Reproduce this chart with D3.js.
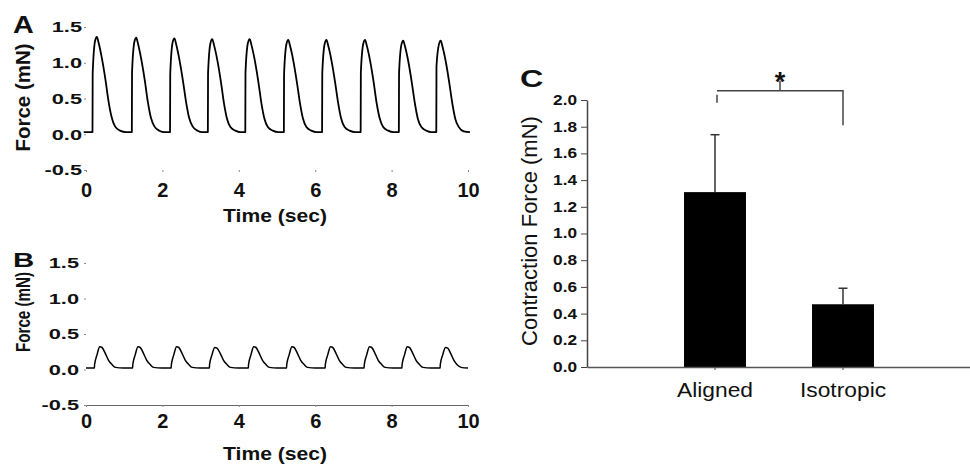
<!DOCTYPE html>
<html>
<head>
<meta charset="utf-8">
<script src="https://cdn.jsdelivr.net/npm/d3@7"></script>
<style>
  body { margin: 0; background: #fff; }
  text { font-family: "Liberation Sans", Arial, sans-serif; fill: #111; }
</style>
</head>
<body>
<script>
// ---- data ----
var timeTicks = [0, 2, 4, 6, 8, 10];
var forceTicks = [-0.5, 0.0, 0.5, 1.0, 1.5];

// panel A: aligned tissue, force trace [time (s), force (mN)]
var traceA = [
    [-0.06, 0.03], [0.17, 0.03],
    [0.175, 0.85], [0.24, 1.31], [0.285, 1.36], [0.33, 1.28], [0.42, 1.05], [0.51, 0.76], [0.59, 0.46], [0.67, 0.24], [0.76, 0.11], [0.89, 0.05], [1.05, 0.03], [1.20, 0.03],
    [1.205, 0.86], [1.27, 1.30], [1.315, 1.35], [1.36, 1.27], [1.45, 1.04], [1.54, 0.75], [1.62, 0.45], [1.70, 0.23], [1.79, 0.11], [1.92, 0.05], [2.06, 0.03], [2.20, 0.03],
    [2.205, 0.84], [2.27, 1.29], [2.315, 1.34], [2.36, 1.26], [2.45, 1.03], [2.54, 0.74], [2.62, 0.45], [2.70, 0.23], [2.79, 0.11], [2.92, 0.05], [3.06, 0.03], [3.19, 0.03],
    [3.195, 0.85], [3.26, 1.28], [3.305, 1.33], [3.35, 1.25], [3.44, 1.03], [3.53, 0.74], [3.61, 0.44], [3.69, 0.22], [3.78, 0.10], [3.91, 0.05], [4.04, 0.03], [4.17, 0.03],
    [4.175, 0.86], [4.24, 1.28], [4.285, 1.33], [4.33, 1.25], [4.42, 1.03], [4.51, 0.74], [4.59, 0.44], [4.67, 0.22], [4.76, 0.10], [4.89, 0.05], [5.04, 0.03], [5.18, 0.03],
    [5.185, 0.84], [5.25, 1.27], [5.295, 1.32], [5.34, 1.24], [5.43, 1.02], [5.52, 0.73], [5.60, 0.44], [5.68, 0.22], [5.77, 0.10], [5.90, 0.05], [6.04, 0.03], [6.18, 0.03],
    [6.185, 0.85], [6.25, 1.27], [6.295, 1.32], [6.34, 1.24], [6.43, 1.02], [6.52, 0.73], [6.60, 0.44], [6.68, 0.22], [6.77, 0.10], [6.90, 0.05], [7.05, 0.03], [7.19, 0.03],
    [7.195, 0.86], [7.26, 1.27], [7.305, 1.32], [7.35, 1.24], [7.44, 1.02], [7.53, 0.73], [7.61, 0.43], [7.69, 0.22], [7.78, 0.10], [7.91, 0.05], [8.05, 0.03], [8.19, 0.03],
    [8.195, 0.85], [8.26, 1.26], [8.305, 1.31], [8.35, 1.23], [8.44, 1.01], [8.53, 0.72], [8.61, 0.43], [8.69, 0.21], [8.78, 0.10], [8.91, 0.05], [9.04, 0.03], [9.17, 0.03],
    [9.175, 0.95], [9.24, 1.26], [9.285, 1.31], [9.33, 1.23], [9.42, 1.01], [9.51, 0.72], [9.59, 0.43], [9.67, 0.21], [9.76, 0.10], [9.89, 0.04], [10.05, 0.03]
];

// panel B: isotropic tissue
var traceB = [
    [0.0, 0.02], [0.22, 0.02],
    [0.225, 0.07], [0.29, 0.21], [0.36, 0.32], [0.42, 0.31], [0.51, 0.22], [0.59, 0.13], [0.68, 0.07], [0.77, 0.03], [0.98, 0.02], [1.22, 0.02],
    [1.225, 0.07], [1.29, 0.21], [1.36, 0.32], [1.42, 0.31], [1.51, 0.22], [1.59, 0.13], [1.68, 0.07], [1.77, 0.03], [1.98, 0.02], [2.23, 0.02],
    [2.235, 0.07], [2.30, 0.21], [2.37, 0.32], [2.43, 0.31], [2.52, 0.22], [2.60, 0.13], [2.69, 0.07], [2.78, 0.03], [2.99, 0.02], [3.23, 0.02],
    [3.235, 0.07], [3.30, 0.21], [3.37, 0.31], [3.43, 0.30], [3.52, 0.22], [3.60, 0.13], [3.69, 0.07], [3.78, 0.03], [3.99, 0.02], [4.25, 0.02],
    [4.255, 0.07], [4.32, 0.21], [4.39, 0.32], [4.45, 0.31], [4.54, 0.22], [4.62, 0.13], [4.71, 0.07], [4.80, 0.03], [5.01, 0.02], [5.25, 0.02],
    [5.255, 0.07], [5.32, 0.21], [5.39, 0.32], [5.45, 0.31], [5.54, 0.22], [5.62, 0.13], [5.71, 0.07], [5.80, 0.03], [6.01, 0.02], [6.26, 0.02],
    [6.265, 0.07], [6.33, 0.21], [6.40, 0.32], [6.46, 0.31], [6.55, 0.22], [6.63, 0.13], [6.72, 0.07], [6.81, 0.03], [7.02, 0.02], [7.28, 0.02],
    [7.285, 0.07], [7.35, 0.21], [7.42, 0.32], [7.48, 0.31], [7.57, 0.22], [7.65, 0.13], [7.74, 0.07], [7.83, 0.03], [8.04, 0.02], [8.27, 0.02],
    [8.275, 0.07], [8.34, 0.21], [8.41, 0.32], [8.47, 0.31], [8.56, 0.22], [8.64, 0.13], [8.73, 0.07], [8.82, 0.03], [9.03, 0.02], [9.27, 0.02],
    [9.275, 0.07], [9.34, 0.21], [9.41, 0.31], [9.47, 0.30], [9.56, 0.21], [9.64, 0.12], [9.73, 0.06], [9.82, 0.03], [10.0, 0.02]
];

// panel C: mean contraction force with SD
var groups = ["Aligned", "Isotropic"];
var means = [1.31, 0.47];
var sds = [0.43, 0.12];
var cTicks = [0.0, 0.2, 0.4, 0.6, 0.8, 1.0, 1.2, 1.4, 1.6, 1.8, 2.0];
// significance bracket: [left drop bottom, bar level, right drop bottom]
var bracketLevels = [1.98, 2.07, 1.81];

var svg = d3.select("body")
    .append("svg")
    .attr("width", 970)
    .attr("height", 464);

// text in the figure is wider than the font, so stretch it a bit
function stretch(sel, k) {
    sel.each(function () {
        var w = this.getComputedTextLength();
        this.setAttribute("textLength", w * k);
        this.setAttribute("lengthAdjust", "spacingAndGlyphs");
    });
}

var xscale = d3.scaleLinear()
    .domain([0, 10])
    .range([86, 468]);

function fmt(d) { return d.toFixed(1); }

function tracePanel(opt) {
    var yscale = d3.scaleLinear()
        .domain([-0.5, 1.5])
        .range([opt.bottom, opt.top]);

    var g = svg.append("g");

    var yAxis = d3.axisLeft(yscale)
        .tickValues(forceTicks)
        .tickFormat(fmt)
        .tickSize(2)
        .tickPadding(opt.yPad);
    var ya = g.append("g")
        .attr("transform", "translate(86,0)")
        .call(yAxis);
    ya.select(".domain").remove();
    ya.selectAll("line").attr("stroke", "#888");
    ya.selectAll("text")
        .attr("font-size", 15)
        .attr("font-weight", "bold")
        .attr("font-family", null);
    stretch(ya.selectAll("text"), 1.45);

    var xAxis = d3.axisBottom(xscale)
        .tickValues(timeTicks)
        .tickSize(2)
        .tickSizeOuter(0)
        .tickPadding(opt.xPad);
    var xa = g.append("g")
        .attr("transform", "translate(0," + opt.bottom + ")")
        .call(xAxis);
    if (opt.axisLine) {
        xa.select(".domain").attr("stroke", "#666").attr("stroke-width", 1.2);
    } else {
        xa.select(".domain").remove();
    }
    xa.selectAll("line").attr("stroke", "#888");
    xa.selectAll("text")
        .attr("font-size", 20)
        .attr("font-weight", "bold")
        .attr("font-family", null);

    var line = d3.line()
        .x(function (d) { return xscale(d[0]); })
        .y(function (d) { return yscale(d[1]); })
        .curve(d3.curveMonotoneX);

    g.append("path")
        .datum(opt.data)
        .attr("fill", "none")
        .attr("stroke", "#000")
        .attr("stroke-width", opt.lineW)
        .attr("stroke-linejoin", "round")
        .attr("d", line);

    var t = g.append("text")
        .attr("x", 275)
        .attr("y", opt.timeBase)
        .attr("text-anchor", "middle")
        .attr("font-size", 18.5)
        .attr("font-weight", "bold")
        .text("Time (sec)");
    stretch(t, 1.14);

    g.append("text")
        .attr("transform", "translate(30," + opt.titleMid + ") rotate(-90)")
        .attr("text-anchor", "middle")
        .attr("font-size", opt.titleSize)
        .attr("font-weight", "bold")
        .attr("textLength", opt.titleLen)
        .attr("lengthAdjust", "spacingAndGlyphs")
        .text("Force (mN)");

    var l = g.append("text")
        .attr("x", 13)
        .attr("y", opt.letterBase)
        .attr("font-size", opt.letterSize)
        .attr("font-weight", "bold")
        .text(opt.letter);
    stretch(l, opt.letterK);
}

tracePanel({ data: traceA, top: 27, bottom: 170, axisLine: false, yPad: 2, xPad: 10.8,
    lineW: 1.8, timeBase: 222, titleMid: 97.5, titleLen: 108, titleSize: 20,
    letter: "A", letterBase: 33, letterSize: 23, letterK: 1.25 });

tracePanel({ data: traceB, top: 263, bottom: 405, axisLine: true, yPad: 5, xPad: 6.8,
    lineW: 1.5, timeBase: 460, titleMid: 312, titleLen: 80, titleSize: 21,
    letter: "B", letterBase: 267, letterSize: 21, letterK: 1.4 });

// ---- panel C ----
var yC = d3.scaleLinear()
    .domain([0, 2])
    .range([367, 100]);

var xC = d3.scaleBand()
    .domain(groups)
    .range([587, 971])
    .paddingInner(0.516)
    .paddingOuter(0.758);

var gc = svg.append("g");

var yAxisC = d3.axisLeft(yC)
    .tickValues(cTicks)
    .tickFormat(fmt)
    .tickSize(6)
    .tickSizeOuter(0)
    .tickPadding(4);
var yac = gc.append("g")
    .attr("transform", "translate(587,0)")
    .call(yAxisC);
yac.select(".domain").attr("stroke", "#444").attr("stroke-width", 1.5);
yac.selectAll("line").attr("stroke", "#444");
yac.selectAll("text")
    .attr("font-size", 14)
    .attr("font-weight", "bold")
    .attr("font-family", null);
stretch(yac.selectAll("text"), 1.23);

var bars = gc.selectAll(".bar")
    .data(groups)
    .enter().append("rect")
    .attr("class", "bar")
    .attr("x", function (d) { return xC(d); })
    .attr("width", xC.bandwidth())
    .attr("y", function (d, i) { return yC(means[i]); })
    .attr("height", function (d, i) { return yC(0) - yC(means[i]); })
    .attr("fill", "#000");

// upper error bars only
groups.forEach(function (d, i) {
    var cx = xC(d) + xC.bandwidth() / 2;
    gc.append("line")
        .attr("x1", cx).attr("x2", cx)
        .attr("y1", yC(means[i])).attr("y2", yC(means[i] + sds[i]))
        .attr("stroke", "#333").attr("stroke-width", 1.5);
    gc.append("line")
        .attr("x1", cx - 4.5).attr("x2", cx + 4.5)
        .attr("y1", yC(means[i] + sds[i])).attr("y2", yC(means[i] + sds[i]))
        .attr("stroke", "#333").attr("stroke-width", 1.5);
});

var xAxisC = d3.axisBottom(xC)
    .tickSize(3)
    .tickSizeOuter(0)
    .tickPadding(12.8);
var xac = gc.append("g")
    .attr("transform", "translate(0,367)")
    .call(xAxisC);
xac.select(".domain").attr("stroke", "#555").attr("stroke-width", 1.5);
xac.selectAll("line").attr("stroke", "#444");
xac.selectAll("text")
    .attr("font-size", 20)
    .attr("font-family", null);
stretch(xac.selectAll("text"), 1.14);

// significance bracket
var bx1 = xC(groups[0]) + xC.bandwidth() / 2 + 2;
var bx2 = xC(groups[1]) + xC.bandwidth() / 2;
var bmid = (bx1 + bx2) / 2;
gc.append("path")
    .attr("d", "M" + bx1 + "," + yC(bracketLevels[1]) + "H" + bx2 + "V" + yC(bracketLevels[2]))
    .attr("fill", "none")
    .attr("stroke", "#444")
    .attr("stroke-width", 1.5);
gc.append("line")
    .attr("x1", bx1).attr("x2", bx1)
    .attr("y1", yC(bracketLevels[0] + 0.06)).attr("y2", yC(bracketLevels[0]))
    .attr("stroke", "#444").attr("stroke-width", 1.5);
gc.append("line")
    .attr("x1", bmid).attr("x2", bmid)
    .attr("y1", yC(bracketLevels[1])).attr("y2", yC(bracketLevels[1] + 0.075))
    .attr("stroke", "#444").attr("stroke-width", 1.5);
gc.append("text")
    .attr("x", bmid)
    .attr("y", yC(bracketLevels[1] + 0.075) + 10)
    .attr("text-anchor", "middle")
    .attr("font-size", 27)
    .attr("font-weight", "bold")
    .text("*");

gc.append("text")
    .attr("transform", "translate(537,231) rotate(-90)")
    .attr("text-anchor", "middle")
    .attr("font-size", 22)
    .text("Contraction Force (mN)");

var lc = gc.append("text")
    .attr("x", 520)
    .attr("y", 87)
    .attr("font-size", 24)
    .attr("font-weight", "bold")
    .text("C");
stretch(lc, 1.35);
</script>
</body>
</html>
